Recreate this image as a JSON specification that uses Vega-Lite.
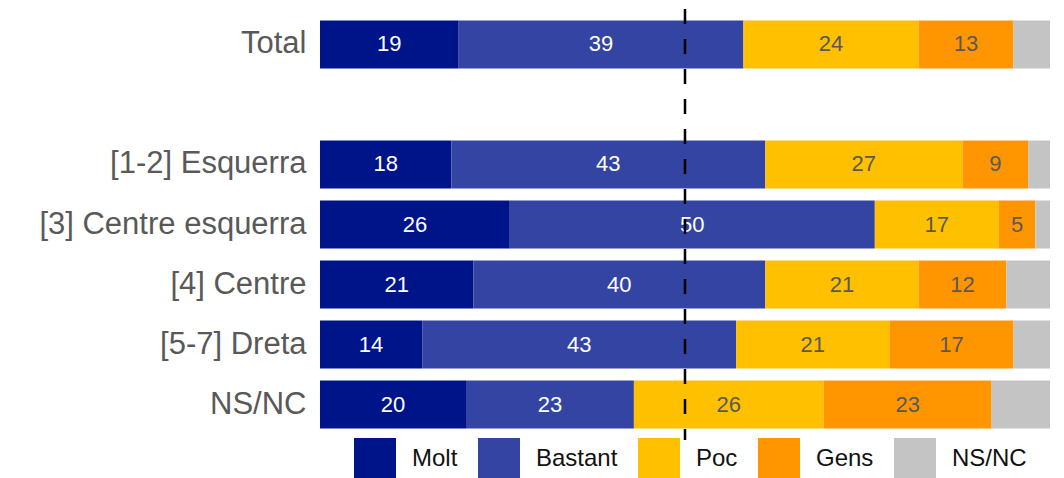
{
  "$schema": "https://vega.github.io/schema/vega-lite/v6.json",
  "width": 730,
  "height": 431,
  "autosize": "none",
  "padding": {"left": 320, "top": 9, "right": 14, "bottom": 38},
  "background": "white",
  "config": {"view": {"stroke": null}, "font": "Liberation Sans"},
  "data": {
    "values": [
      {"grp": "Total", "resp": "Molt", "value": 19},
      {"grp": "Total", "resp": "Bastant", "value": 39},
      {"grp": "Total", "resp": "Poc", "value": 24},
      {"grp": "Total", "resp": "Gens", "value": 13},
      {"grp": "Total", "resp": "NS/NC", "value": 5},
      {"grp": "[1-2] Esquerra", "resp": "Molt", "value": 18},
      {"grp": "[1-2] Esquerra", "resp": "Bastant", "value": 43},
      {"grp": "[1-2] Esquerra", "resp": "Poc", "value": 27},
      {"grp": "[1-2] Esquerra", "resp": "Gens", "value": 9},
      {"grp": "[1-2] Esquerra", "resp": "NS/NC", "value": 3},
      {"grp": "[3] Centre esquerra", "resp": "Molt", "value": 26},
      {"grp": "[3] Centre esquerra", "resp": "Bastant", "value": 50},
      {"grp": "[3] Centre esquerra", "resp": "Poc", "value": 17},
      {"grp": "[3] Centre esquerra", "resp": "Gens", "value": 5},
      {"grp": "[3] Centre esquerra", "resp": "NS/NC", "value": 2},
      {"grp": "[4] Centre", "resp": "Molt", "value": 21},
      {"grp": "[4] Centre", "resp": "Bastant", "value": 40},
      {"grp": "[4] Centre", "resp": "Poc", "value": 21},
      {"grp": "[4] Centre", "resp": "Gens", "value": 12},
      {"grp": "[4] Centre", "resp": "NS/NC", "value": 6},
      {"grp": "[5-7] Dreta", "resp": "Molt", "value": 14},
      {"grp": "[5-7] Dreta", "resp": "Bastant", "value": 43},
      {"grp": "[5-7] Dreta", "resp": "Poc", "value": 21},
      {"grp": "[5-7] Dreta", "resp": "Gens", "value": 17},
      {"grp": "[5-7] Dreta", "resp": "NS/NC", "value": 5},
      {"grp": "NS/NC", "resp": "Molt", "value": 20},
      {"grp": "NS/NC", "resp": "Bastant", "value": 23},
      {"grp": "NS/NC", "resp": "Poc", "value": 26},
      {"grp": "NS/NC", "resp": "Gens", "value": 23},
      {"grp": "NS/NC", "resp": "NS/NC", "value": 8}
    ]
  },
  "transform": [
    {"calculate": "indexof(['Molt','Bastant','Poc','Gens','NS/NC'], datum.resp)", "as": "ord"},
    {"stack": "value", "groupby": ["grp"], "sort": [{"field": "ord", "order": "ascending"}], "as": ["v0", "v1"]},
    {"calculate": "(datum.v0 + datum.v1) / 2", "as": "mid"}
  ],
  "encoding": {
    "y": {
      "field": "grp",
      "type": "nominal",
      "scale": {
        "domain": ["Total", " ", "[1-2] Esquerra", "[3] Centre esquerra", "[4] Centre", "[5-7] Dreta", "NS/NC"],
        "paddingInner": 0.2,
        "paddingOuter": 0.19
      },
      "axis": {
        "title": null,
        "domain": false,
        "ticks": false,
        "labelPadding": 14,
        "labelFontSize": 31,
        "labelLimit": 400,
        "labelColor": "#595959",
        "labelFont": "Liberation Sans"
      }
    }
  },
  "layer": [
    {
      "mark": {"type": "bar"},
      "encoding": {
        "x": {"field": "v0", "type": "quantitative", "scale": {"domain": [0, 100], "nice": false}, "axis": null},
        "x2": {"field": "v1"},
        "color": {
          "field": "resp",
          "type": "nominal",
          "scale": {
            "domain": ["Molt", "Bastant", "Poc", "Gens", "NS/NC"],
            "range": ["#001489", "#3344A3", "#FFC000", "#FF9600", "#C4C4C4"]
          },
          "legend": {
            "title": null,
            "orient": "none",
            "direction": "horizontal",
            "legendX": 34,
            "legendY": 429,
            "padding": 0,
            "symbolType": "square",
            "symbolSize": 1764,
            "symbolStrokeWidth": 0,
            "symbolOpacity": 1,
            "labelFontSize": 24,
            "labelFont": "Liberation Sans",
            "labelColor": "#111111",
            "labelOffset": 16,
            "columnPadding": 20
          }
        }
      }
    },
    {
      "transform": [{"filter": "datum.resp !== 'NS/NC'"}],
      "mark": {"type": "text", "fontSize": 22, "font": "Liberation Sans", "baseline": "middle", "align": "center"},
      "encoding": {
        "x": {"field": "mid", "type": "quantitative"},
        "text": {"field": "value", "type": "quantitative"},
        "color": {
          "condition": {"test": "datum.resp === 'Molt' || datum.resp === 'Bastant'", "value": "#ffffff"},
          "value": "#595959"
        }
      }
    },
    {
      "data": {"values": [{"ref": 50}]},
      "mark": {"type": "rule", "strokeDash": [15, 15], "strokeWidth": 2.5, "color": "#000000"},
      "encoding": {"x": {"field": "ref", "type": "quantitative"}, "y": null}
    }
  ]
}
